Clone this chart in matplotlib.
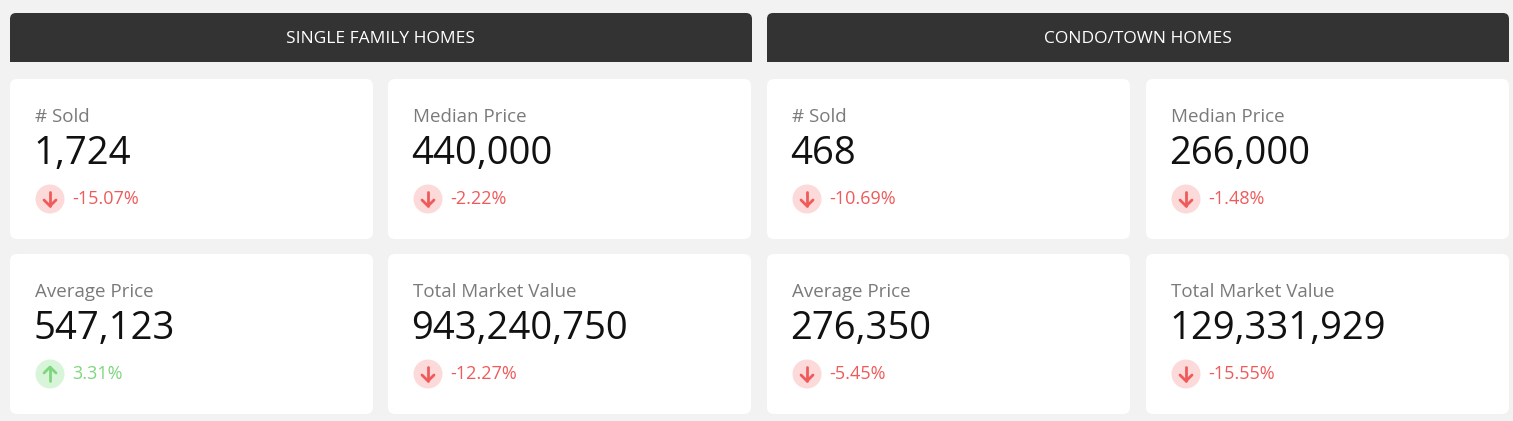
import matplotlib
matplotlib.use("Agg")
import matplotlib.pyplot as plt
from matplotlib.patches import FancyBboxPatch, Circle

sections = ["SINGLE FAMILY HOMES", "CONDO/TOWN HOMES"]
labels = ["# Sold", "Median Price", "Average Price", "Total Market Value"]
values = [["1,724", "440,000", "547,123", "943,240,750"],
          ["468", "266,000", "276,350", "129,331,929"]]
changes = [[-15.07, -2.22, 3.31, -12.27],
           [-10.69, -1.48, -5.45, -15.55]]

W, H = 1513, 421
fig = plt.figure(figsize=(W/100, H/100), dpi=100)
fig.patch.set_facecolor("#f2f2f2")
ax = fig.add_axes([0, 0, 1, 1])
ax.set_xlim(0, W); ax.set_ylim(H, 0); ax.axis("off")
FONT = "Open Sans"

sec_x = [10, 767]
card_x = [[10, 388], [767, 1146]]
card_w = 363
rows_y = [79, 254]
card_h = 160

for s in range(2):
    x0 = sec_x[s]
    ax.add_patch(FancyBboxPatch((x0, 13), 742, 49, boxstyle="round,pad=0,rounding_size=6",
                                fc="#333333", ec="none"))
    ax.add_patch(plt.Rectangle((x0, 40), 742, 22, fc="#333333", ec="none"))
    ax.text(x0 + 371, 39, sections[s], color="white", fontsize=12.5, family=FONT,
            ha="center", va="center")
    for i in range(4):
        r, c = divmod(i, 2)
        cx, cy = card_x[s][c], rows_y[r]
        ax.add_patch(FancyBboxPatch((cx, cy), card_w, card_h,
                                    boxstyle="round,pad=0,rounding_size=7",
                                    fc="white", ec="none"))
        ax.text(cx + 25, cy + 38, labels[i], color="#7a7a7a", fontsize=13.5,
                family=FONT, va="center")
        ax.text(cx + 23, cy + 75, values[s][i], color="#111111", fontsize=27.5,
                family=FONT, va="center")
        ch = changes[s][i]
        up = ch > 0
        col = "#7ed67e" if up else "#ef5b5b"
        bg = "#d9f5d9" if up else "#fddada"
        ccx, ccy = cx + 40, cy + 120
        ax.add_patch(Circle((ccx, ccy), 14.5, fc=bg, ec="none"))
        d = -1 if up else 1
        ax.plot([ccx, ccx], [ccy - 7*d, ccy + 7*d], color=col, lw=2, solid_capstyle="round")
        ax.plot([ccx - 6, ccx, ccx + 6], [ccy + 1*d, ccy + 7*d, ccy + 1*d], color=col, lw=2,
                solid_capstyle="round", solid_joinstyle="round")
        ax.text(cx + 62, ccy, f"{ch:.2f}%", color=col, fontsize=13, family=FONT, va="center")

fig.savefig("out.png", dpi=100, facecolor=fig.get_facecolor())
